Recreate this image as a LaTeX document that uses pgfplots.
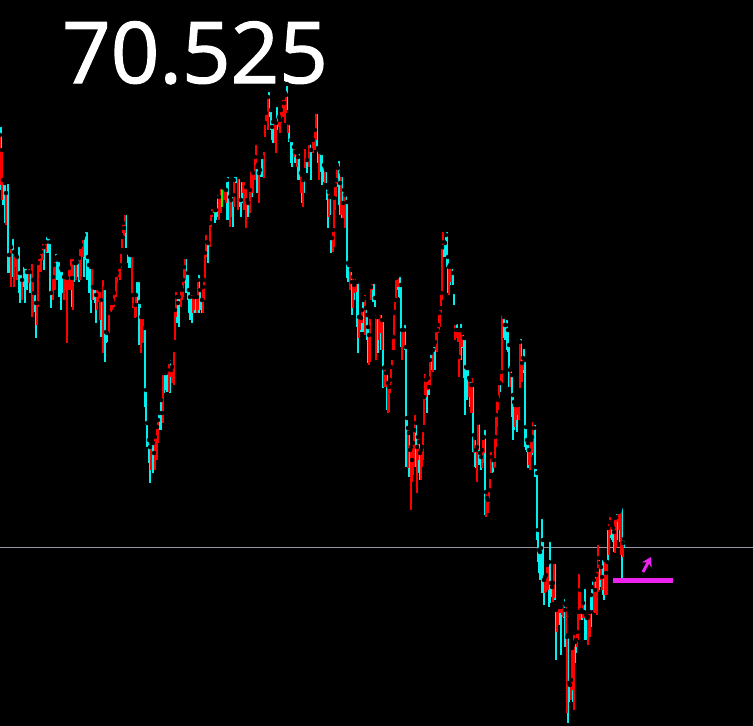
\documentclass[border=0pt]{standalone}
\usepackage{pgfplots}
\usepackage{pgfplotstable}
\pgfplotsset{compat=1.18}
\usetikzlibrary{arrows.meta}
\usepackage{fontspec}
\setmainfont{Open Sans}
\definecolor{cbar}{RGB}{0,240,240}
\definecolor{rbar}{RGB}{255,0,0}
\definecolor{gbar}{RGB}{0,255,0}
\definecolor{mag}{RGB}{238,34,238}
\definecolor{hline}{RGB}{150,150,160}
\pgfplotstableread{
x t b
0 135 185
2 150 200
6 193 225
11 247 287
14 252 287
16 255 267
17 257 280
22 280 300
29 267 283
32 262 317
33 280 313
37 303 325
38 263 307
39 257 272
41 252 272
43 242 260
46 242 252
53 277 300
54 265 280
55 260 290
64 277 300
65 277 290
67 278 343
69 268 290
71 257 290
73 257 310
76 263 280
80 247 280
81 245 277
83 238 257
92 267 300
97 288 310
99 287 302
100 290 320
103 278 353
109 313 333
111 303 312
112 300 310
113 303 308
114 293 307
116 275 297
117 273 283
119 267 277
120 265 280
121 252 268
122 237 248
123 223 233
124 228 236
125 213 233
132 255 295
133 295 308
135 305 318
136 295 317
141 317 353
143 317 343
151 443 470
155 437 470
157 427 460
158 420 443
163 373 423
169 362 392
171 370 377
172 367 383
174 350 385
175 310 340
176 290 317
181 287 307
182 290 300
183 280 297
184 267 283
185 257 280
193 293 313
194 297 310
197 297 313
198 280 310
203 287 313
204 280 300
205 253 280
206 233 257
210 223 247
211 213 227
212 207 217
213 207 213
219 197 220
221 187 213
223 187 200
224 188 200
226 190 203
230 197 227
231 200 217
234 180 207
238 175 210
243 177 193
244 180 210
246 187 228
250 190 213
251 167 197
253 173 193
255 157 180
256 143 163
259 173 203
264 150 178
265 123 137
266 113 123
268 97 130
275 120 143
276 123 153
279 117 127
280 120 133
281 110 123
283 98 117
284 103 110
285 93 123
286 95 113
288 120 133
294 147 157
297 153 167
301 173 193
303 180 207
305 147 168
309 143 167
313 140 153
315 130 150
316 110 140
319 150 180
325 167 183
329 192 217
333 230 252
334 198 247
335 185 210
336 180 197
337 165 183
341 172 215
343 203 218
344 190 213
345 195 228
350 265 290
353 277 308
355 282 293
356 277 292
359 317 338
360 317 330
362 310 323
365 293 335
369 335 365
370 317 362
371 287 300
372 282 290
376 313 360
379 313 340
380 310 333
382 320 350
384 368 387
385 367 380
386 373 387
388 383 413
389 387 412
390 380 393
391 367 383
392 358 368
393 337 350
394 313 350
395 300 310
396 278 298
398 275 287
402 330 360
404 330 347
408 428 468
411 447 510
412 460 482
413 443 475
414 430 467
415 413 433
417 447 493
418 437 460
421 450 480
422 447 467
423 430 460
424 397 425
425 372 400
426 380 397
428 378 390
430 360 387
433 350 372
436 330 350
437 330 352
438 325 333
439 313 330
440 308 327
441 293 313
442 247 300
443 230 250
449 267 295
451 265 282
455 323 340
456 330 338
458 330 342
459 357 377
460 330 360
462 330 347
469 378 397
471 385 413
472 376 413
474 435 453
477 447 482
478 423 450
482 450 468
483 438 463
484 437 453
486 492 517
488 500 513
489 490 503
490 477 490
491 450 473
494 460 468
495 437 467
496 415 447
497 397 427
498 400 410
499 383 398
501 372 383
502 313 383
510 370 387
515 405 427
516 405 420
518 405 415
519 402 420
520 342 388
522 363 382
523 358 370
529 450 465
530 437 470
531 440 457
533 420 453
545 577 593
546 575 592
547 565 580
548 562 590
553 583 602
554 562 598
557 607 632
558 605 625
560 603 613
562 600 615
563 603 617
566 605 635
567 637 713
571 680 700
572 648 690
574 633 710
577 632 647
578 612 640
579 572 612
580 590 620
583 603 618
584 612 618
588 617 645
589 612 637
590 612 637
594 580 612
595 590 613
597 570 615
598 543 592
601 567 580
602 577 590
605 560 595
606 573 587
607 562 595
609 522 555
610 515 535
615 518 553
616 517 548
618 510 522
619 512 530
621 507 555
623 543 557
}\redbars
\pgfplotstableread{
x t b
1 125 190
3 180 205
5 183 223
8 182 273
9 255 273
13 237 277
19 245 293
20 273 303
21 273 297
24 265 287
25 265 303
26 267 280
27 272 290
30 272 293
34 293 312
35 293 303
36 303 338
44 247 270
47 235 253
49 237 253
50 242 293
51 293 308
56 252 280
57 257 280
58 257 267
59 260 297
61 268 310
62 270 293
72 278 307
74 263 282
77 262 277
79 258 282
84 235 277
86 230 260
87 230 280
88 257 280
89 265 293
91 267 313
93 287 300
95 288 303
96 295 323
101 300 337
105 288 362
106 332 343
107 333 342
126 213 248
128 252 263
129 253 268
130 255 268
137 280 303
139 280 345
140 302 308
145 328 407
146 390 425
147 423 447
149 440 463
150 447 483
153 443 473
154 453 467
159 413 430
161 400 430
162 413 423
164 373 393
166 373 390
167 370 392
170 358 393
177 297 323
178 303 317
179 297 327
186 257 293
188 273 300
189 290 313
190 297 320
192 293 323
195 297 313
199 273 313
200 290 310
202 300 313
207 242 253
208 243 263
215 210 223
216 210 220
218 193 217
227 180 220
228 175 220
233 195 227
235 175 183
236 172 183
239 177 207
241 200 217
242 180 203
247 200 217
248 203 217
252 170 197
257 167 193
260 170 177
262 157 177
269 90 117
271 110 130
272 127 140
273 122 143
277 105 130
287 84 110
289 123 142
291 140 163
292 140 167
295 152 163
298 157 180
299 152 180
302 175 203
304 177 193
307 160 173
310 140 160
311 150 180
317 112 147
318 148 163
320 152 167
321 152 172
322 153 185
324 165 182
326 170 183
327 185 200
328 188 228
330 197 215
331 238 253
332 238 248
338 168 187
339 159 205
340 183 215
342 175 218
346 193 228
347 202 278
348 263 282
349 265 275
351 270 290
352 282 315
354 285 300
357 282 327
358 280 353
361 318 332
363 300 332
364 298 322
366 308 330
367 315 340
368 327 363
373 280 302
374 282 298
375 298 307
377 317 328
378 317 353
381 313 350
383 320 388
387 373 410
397 277 290
399 272 297
400 275 298
401 285 347
403 330 347
405 323 350
406 347 467
407 418 467
409 433 477
410 450 475
416 423 467
419 442 473
420 453 480
427 377 413
429 387 395
431 353 367
432 350 370
434 345 368
435 342 370
444 242 257
445 243 253
446 235 257
447 230 267
448 257 293
450 265 285
452 267 280
453 273 285
454 292 305
457 322 330
461 322 360
463 333 348
464 338 378
465 338 415
466 367 398
467 368 400
468 368 388
470 380 407
473 385 452
475 438 467
476 450 468
479 422 465
480 453 465
481 457 470
485 428 515
487 498 513
492 457 473
493 460 472
500 383 392
503 314 335
504 317 338
505 325 340
506 325 330
507 318 350
508 330 352
509 345 387
511 368 378
512 375 417
513 395 440
514 402 430
517 405 432
521 337 380
524 347 373
525 360 447
526 427 450
527 440 452
528 443 468
532 437 455
534 428 448
535 423 477
536 467 477
537 473 540
538 530 562
539 550 573
540 552 580
541 548 562
542 517 593
543 540 590
544 580 605
549 562 607
550 540 603
551 583 597
552 587 595
555 562 600
556 610 660
559 607 625
561 607 655
564 597 618
565 610 647
568 635 723
569 683 702
570 685 692
573 645 702
575 642 663
576 640 653
581 610 620
582 612 620
585 587 640
586 615 637
587 618 640
591 595 627
592 587 610
593 578 593
596 575 610
599 558 590
600 563 587
603 558 595
604 555 600
608 528 562
611 525 538
612 525 540
613 528 542
614 532 552
617 512 540
620 510 542
622 505 578
624 539 548
}\cyanbars
\pgfplotstableread{
x t b
214 207 213
222 184 207
}\greenbars
\begin{document}
\begin{tikzpicture}
\useasboundingbox (0,0) rectangle (753pt,726pt);
\fill[black] (0,0) rectangle (753pt,726pt);
\begin{axis}[
  at={(0,0)}, anchor=south west,
  width=753pt, height=726pt, scale only axis,
  xmin=0, xmax=753, ymin=0, ymax=726, y dir=reverse,
  axis lines=none, ticks=none, clip=false,
  bar/.style={only marks, mark=none, error bars/.cd, y dir=plus, y explicit,
    error mark=none, error bar style={line width=2.2pt, draw=#1}},
]
\addplot[hline, line width=1pt] coordinates {(0,547) (753,547)};
\addplot[bar=cbar] table[x=x, y=t, y error expr=\thisrow{b}-\thisrow{t}] {\cyanbars};
\addplot[bar=rbar] table[x=x, y=t, y error expr=\thisrow{b}-\thisrow{t}] {\redbars};
\addplot[bar=gbar] table[x=x, y=t, y error expr=\thisrow{b}-\thisrow{t}] {\greenbars};
\addplot[mag, line width=5pt] coordinates {(613,580.5) (673,580.5)};
\draw[mag, line width=3pt, -{Stealth[length=9pt, width=11pt]}] (axis cs:643,572) -- (axis cs:651,557);
\node[anchor=base west, text=white, inner sep=0pt, font=\fontsize{85}{85}\selectfont\addfontfeature{FakeBold=1.5}] at (axis cs:62,83) {70.525};
\end{axis}
\end{tikzpicture}
\end{document}
